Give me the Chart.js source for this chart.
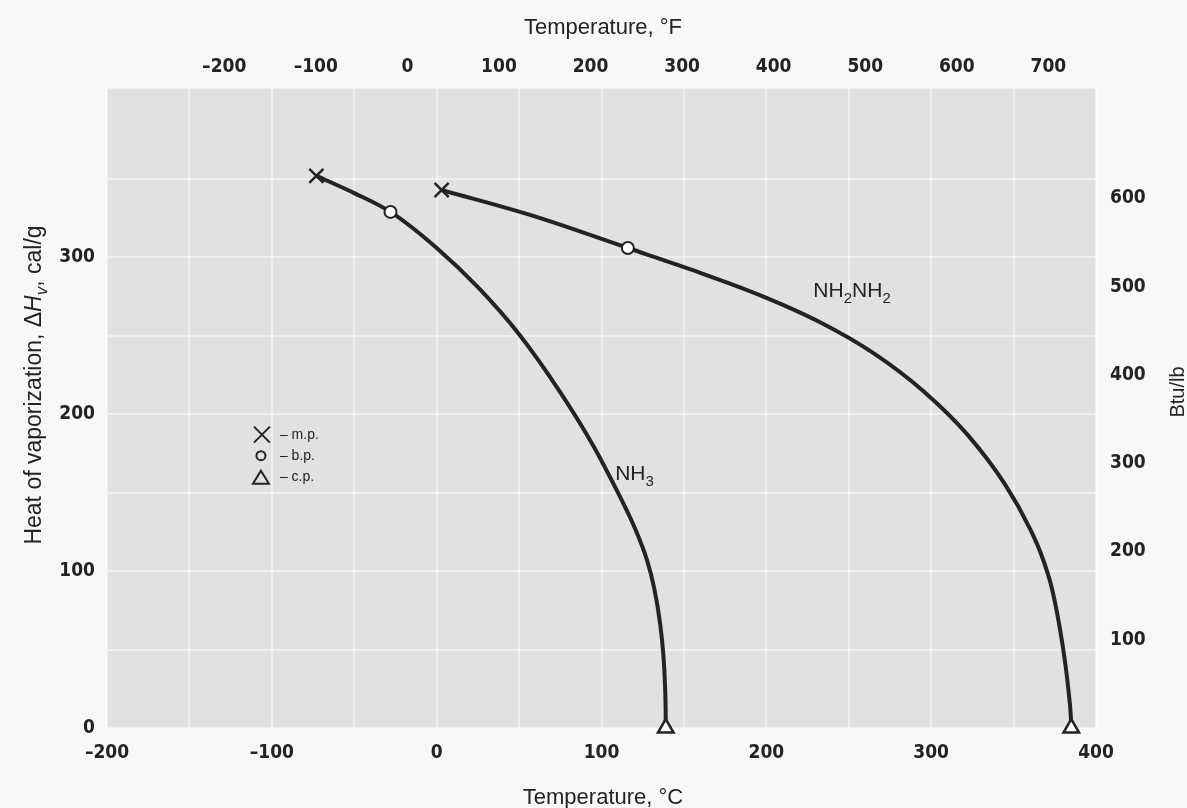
<!DOCTYPE html>
<html>
<head>
<meta charset="utf-8">
<script src="https://cdn.jsdelivr.net/npm/chart.js@4.4.0/dist/chart.umd.min.js"></script>
<style>
    html, body { margin: 0; padding: 0; background: #f8f7f5; }
    #wrap { width: 1187px; height: 808px; }
</style>
</head>
<body>
<div id="wrap"><canvas id="chart" width="1187" height="808"></canvas></div>
<script>
// temperature in °C, heat of vaporization in cal/g
const nh3Temp = [-73, -50, -28, 0, 25, 50, 75, 95, 110, 120, 127.6, 132, 135.5, 137.5, 138.5, 138.9, 139];
const nh3Heat = [352, 341, 329, 306, 281, 251, 214, 180, 150, 128, 107, 89, 67, 47, 28, 12, 0];

const hydTemp = [3, 60, 116, 155, 196, 232, 265, 295, 322, 345, 360, 367, 373, 378, 381.5, 383.5, 384.7, 385];
const hydHeat = [343, 326, 306, 292, 276, 259, 239, 215, 187, 155, 127, 110, 90, 64, 40, 22, 8, 0];

// m.p., b.p., c.p. marks  [NH3, NH2NH2]
const meltTemp = [-73, 3];
const meltHeat = [352, 343];
const boilTemp = [-28, 116];
const boilHeat = [329, 306];
const critTemp = [139, 385];
const critHeat = [0, 0];

const celsiusTicks = [-200, -100, 0, 100, 200, 300, 400];
const fahrenheitTicks = [-200, -100, 0, 100, 200, 300, 400, 500, 600, 700];
const heatTicks = [0, 100, 200, 300];
const btuTicks = [100, 200, 300, 400, 500, 600];

const ink = "#232323";
const dash = v => (v < 0 ? "\u2013" + Math.abs(v) : String(v));
const tickFont = { family: "'DejaVu Sans Condensed', 'DejaVu Sans', sans-serif", size: 19, weight: "bold" };
const gridLine = { color: "rgba(255,255,255,0.45)", lineWidth: 2, drawTicks: false };
const fam = "'Liberation Sans', Arial, sans-serif";

function pts(xs, ys) {
    return xs.map((x, i) => ({ x: x, y: ys[i] }));
}

// draw text pieces: {t, italic, sub}, centred on x
function drawRich(ctx, pieces, x, y, size) {
    const fontOf = p => (p.italic ? "italic " : "") + (p.sub ? Math.round(size * 0.72) : size) + "px " + fam;
    let total = 0;
    pieces.forEach(p => { ctx.font = fontOf(p); total += ctx.measureText(p.t).width; });
    let cx = x - total / 2;
    ctx.textAlign = "left";
    ctx.textBaseline = "alphabetic";
    pieces.forEach(p => {
        ctx.font = fontOf(p);
        ctx.fillText(p.t, cx, y + (p.sub ? size * 0.28 : 0));
        cx += ctx.measureText(p.t).width;
    });
}

const decor = {
    id: "decor",
    beforeDraw(chart) {
        const { ctx, chartArea: a } = chart;
        ctx.save();
        ctx.fillStyle = "#e3e1df";
        ctx.fillRect(a.left, a.top, a.right - a.left, a.bottom - a.top);
        ctx.restore();
    },
    afterDraw(chart) {
        const { ctx, scales } = chart;
        const sx = scales.x, sy = scales.y;
        ctx.save();
        ctx.fillStyle = ink;
        ctx.strokeStyle = ink;

        // axis titles
        drawRich(ctx, [{ t: "Temperature, \u00B0F" }], 603, 34, 22);
        drawRich(ctx, [{ t: "Temperature, \u00B0C" }], 603, 804, 22);

        ctx.save();
        ctx.translate(41, 385);
        ctx.rotate(-Math.PI / 2);
        drawRich(ctx, [
            { t: "Heat of vaporization, \u0394" },
            { t: "H", italic: true },
            { t: "v", italic: true, sub: true },
            { t: ", cal/g" }
        ], 0, 0, 23);
        ctx.restore();

        ctx.save();
        ctx.translate(1184, 392);
        ctx.rotate(-Math.PI / 2);
        drawRich(ctx, [{ t: "Btu/lb" }], 0, 0, 20);
        ctx.restore();

        // curve names
        drawRich(ctx, [{ t: "NH" }, { t: "3", sub: true }], sx.getPixelForValue(120), sy.getPixelForValue(158), 21);
        drawRich(ctx, [{ t: "NH" }, { t: "2", sub: true }, { t: "NH" }, { t: "2", sub: true }],
            sx.getPixelForValue(252), sy.getPixelForValue(275), 21);

        // key
        const kx = sx.getPixelForValue(-106), ky = sy.getPixelForValue(187);
        ctx.lineWidth = 2;
        ctx.beginPath();
        ctx.moveTo(kx - 8, ky - 8); ctx.lineTo(kx + 8, ky + 8);
        ctx.moveTo(kx + 8, ky - 8); ctx.lineTo(kx - 8, ky + 8);
        ctx.stroke();
        ctx.beginPath();
        ctx.arc(kx - 1, ky + 21, 4.5, 0, Math.PI * 2);
        ctx.stroke();
        ctx.beginPath();
        ctx.moveTo(kx - 1, ky + 36); ctx.lineTo(kx + 7, ky + 49); ctx.lineTo(kx - 9, ky + 49); ctx.closePath();
        ctx.stroke();
        ctx.font = "14px " + fam;
        ctx.textAlign = "left";
        ctx.textBaseline = "middle";
        ctx.fillText("\u2013 m.p.", kx + 18, ky);
        ctx.fillText("\u2013 b.p.", kx + 18, ky + 21);
        ctx.fillText("\u2013 c.p.", kx + 18, ky + 42);
        ctx.restore();
    }
};

new Chart(document.getElementById("chart"), {
    type: "scatter",
    data: {
        datasets: [
            { label: "NH3", data: pts(nh3Temp, nh3Heat), showLine: true, borderColor: ink, borderWidth: 4,
              pointRadius: 0, cubicInterpolationMode: "monotone", order: 2 },
            { label: "NH2NH2", data: pts(hydTemp, hydHeat), showLine: true, borderColor: ink, borderWidth: 4,
              pointRadius: 0, cubicInterpolationMode: "monotone", order: 2 },
            { label: "m.p.", data: pts(meltTemp, meltHeat), pointStyle: "crossRot", pointRadius: 10,
              borderColor: ink, borderWidth: 2.5, order: 1 },
            { label: "b.p.", data: pts(boilTemp, boilHeat), pointStyle: "circle", pointRadius: 6,
              backgroundColor: "#ffffff", borderColor: ink, borderWidth: 2, order: 1 },
            { label: "c.p.", data: pts(critTemp, critHeat), pointStyle: "triangle", pointRadius: 9,
              backgroundColor: "#ffffff", borderColor: ink, borderWidth: 2.5, order: 1, clip: false }
        ]
    },
    options: {
        responsive: false,
        animation: false,
        devicePixelRatio: 1,
        layout: { padding: 0 },
        plugins: { legend: { display: false }, tooltip: { enabled: false } },
        scales: {
            x: {
                type: "linear", position: "bottom", min: -200, max: 400,
                ticks: { stepSize: 50, autoSkip: false, maxRotation: 0, padding: 14, color: ink, font: tickFont,
                         callback: v => (celsiusTicks.includes(v) ? dash(v) : "") },
                grid: gridLine, border: { display: false },
                afterFit: s => { s.height = 80; }
            },
            xTop: {
                type: "linear", position: "top", min: -200, max: 400,
                afterBuildTicks: s => { s.ticks = fahrenheitTicks.map(f => ({ value: (f - 32) * 5 / 9 })); },
                ticks: { autoSkip: false, maxRotation: 0, padding: 10, color: ink, font: tickFont,
                         callback: (v, i) => dash(fahrenheitTicks[i]) },
                grid: { display: false, drawTicks: false }, border: { display: false },
                afterFit: s => { s.height = 88; }
            },
            y: {
                type: "linear", position: "left", min: 0, max: 408,
                ticks: { stepSize: 50, autoSkip: false, padding: 12, color: ink, font: tickFont,
                         callback: v => (heatTicks.includes(v) ? String(v) : "") },
                grid: gridLine, border: { display: false },
                afterFit: s => { s.width = 107; }
            },
            yRight: {
                type: "linear", position: "right", min: 0, max: 725,
                afterBuildTicks: s => { s.ticks = btuTicks.map(b => ({ value: b })); },
                ticks: { autoSkip: false, padding: 14, color: ink, font: tickFont,
                         callback: v => String(v) },
                grid: { display: false, drawTicks: false }, border: { display: false },
                afterFit: s => { s.width = 91; }
            }
        }
    },
    plugins: [decor]
});
</script>
</body>
</html>
